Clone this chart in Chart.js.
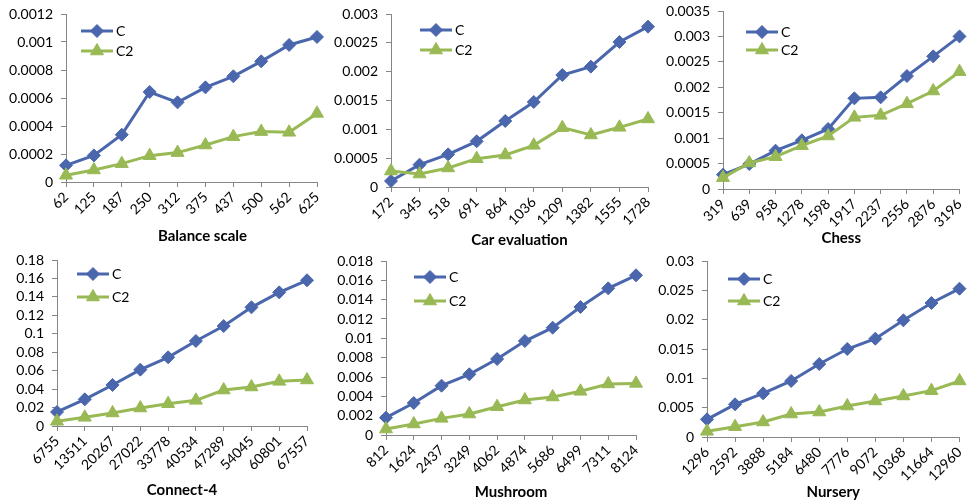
<!DOCTYPE html>
<html lang="en">
<head>
<meta charset="UTF-8">
<title>C vs C2 by dataset size</title>
<script src="https://cdn.jsdelivr.net/npm/chart.js"></script>
<style>
  * { margin: 0; padding: 0; box-sizing: border-box; }
  body { width: 968px; height: 504px; background: #fff; position: relative; overflow: hidden; }
  canvas { position: absolute; }
</style>
</head>
<body>
<canvas id="c1"></canvas>
<canvas id="c2"></canvas>
<canvas id="c3"></canvas>
<canvas id="c4"></canvas>
<canvas id="c5"></canvas>
<canvas id="c6"></canvas>

<script>
// --- data ---
const seriesNames = ['C', 'C2'];

const balanceSizes = ['62', '125', '187', '250', '312', '375', '437', '500', '562', '625'];
const balanceC  = [0.000119, 0.00019, 0.000338, 0.000643, 0.000569, 0.000676, 0.000755, 0.000862, 0.000979, 0.001036];
const balanceC2 = [0.000048, 0.000086, 0.000131, 0.000188, 0.00021, 0.000264, 0.000324, 0.00036, 0.000355, 0.00049];

const carSizes = ['172', '345', '518', '691', '864', '1036', '1209', '1382', '1555', '1728'];
const carC  = [0.000104, 0.000387, 0.000566, 0.000792, 0.001145, 0.001474, 0.001942, 0.002087, 0.002514, 0.00278];
const carC2 = [0.000277, 0.000225, 0.00033, 0.000491, 0.000555, 0.000723, 0.001029, 0.000902, 0.001035, 0.00118];

const chessSizes = ['319', '639', '958', '1278', '1598', '1917', '2237', '2556', '2876', '3196'];
const chessC  = [0.000282, 0.000491, 0.000754, 0.000957, 0.00118, 0.001782, 0.001802, 0.002221, 0.002608, 0.003001];
const chessC2 = [0.000223, 0.000511, 0.000636, 0.000852, 0.001042, 0.001409, 0.001448, 0.001677, 0.001927, 0.002307];

const connectSizes = ['6755', '13511', '20267', '27022', '33778', '40534', '47289', '54045', '60801', '67557'];
const connectC  = [0.0152, 0.0289, 0.0445, 0.0611, 0.0745, 0.0922, 0.1084, 0.1287, 0.1449, 0.158];
const connectC2 = [0.0051, 0.0094, 0.0141, 0.0195, 0.0242, 0.0278, 0.039, 0.0423, 0.0484, 0.0499];

const mushroomSizes = ['812', '1624', '2437', '3249', '4062', '4874', '5686', '6499', '7311', '8124'];
const mushroomC  = [0.00179, 0.00331, 0.0051, 0.00628, 0.00786, 0.00972, 0.0111, 0.01324, 0.01517, 0.01652];
const mushroomC2 = [0.00062, 0.00114, 0.00172, 0.00217, 0.00293, 0.00362, 0.00393, 0.00452, 0.00528, 0.00534];

const nurserySizes = ['1296', '2592', '3888', '5184', '6480', '7776', '9072', '10368', '11664', '12960'];
const nurseryC  = [0.00301, 0.00557, 0.00744, 0.00955, 0.01244, 0.015, 0.01676, 0.01989, 0.02284, 0.02528];
const nurseryC2 = [0.00097, 0.00176, 0.00256, 0.00392, 0.00426, 0.00528, 0.00614, 0.00699, 0.0079, 0.00955];

const titles = ['Balance scale', 'Car evaluation', 'Chess', 'Connect-4', 'Mushroom', 'Nursery'];
const yMaxes = [0.0012, 0.003, 0.0035, 0.18, 0.018, 0.03];
const ySteps = [0.0002, 0.0005, 0.0005, 0.02, 0.002, 0.005];

// --- layout of each panel (pixels) ---
const panels = [
  { id: 'c1', left: 0,   top: 0,   w: 329, h: 244, yW: 66, padT: 14, padR: 12, xH: 62, lx: 15, ly: [17, 37], tShift: 11 },
  { id: 'c2', left: 325, top: 0,   w: 335, h: 248, yW: 66, padT: 14, padR: 12, xH: 61, lx: 29, ly: [16, 36], tShift: 0 },
  { id: 'c3', left: 657, top: 0,   w: 311, h: 246, yW: 66, padT: 11, padR: 5,  xH: 57, lx: 23, ly: [21, 39], tShift: 0 },
  { id: 'c4', left: 0,   top: 250, w: 319, h: 248, yW: 57, padT: 10, padR: 12, xH: 72, lx: 20, ly: [14, 37], tShift: 0 },
  { id: 'c5', left: 320, top: 250, w: 328, h: 250, yW: 66, padT: 11, padR: 12, xH: 65, lx: 28, ly: [16, 40], tShift: 0 },
  { id: 'c6', left: 641, top: 250, w: 327, h: 250, yW: 66, padT: 11, padR: 7,  xH: 63, lx: 21, ly: [18, 40], tShift: 0 }
];

const sizes = [balanceSizes, carSizes, chessSizes, connectSizes, mushroomSizes, nurserySizes];
const cVals = [balanceC, carC, chessC, connectC, mushroomC, nurseryC];
const c2Vals = [balanceC2, carC2, chessC2, connectC2, mushroomC2, nurseryC2];

const BLUE = '#4a66ac';
const GREEN = '#98b954';
const AXIS = '#868686';
const FONT = 'Lato, "Liberation Sans", sans-serif';

// legend drawn inside the plot, top-left, like the original
const insideLegend = {
  id: 'insideLegend',
  afterDatasetsDraw(chart, args, opts) {
    const { ctx, chartArea } = chart;
    const x0 = chartArea.left + opts.dx;
    ctx.save();
    chart.data.datasets.forEach((ds, i) => {
      const y = chartArea.top + opts.dy[i];
      ctx.strokeStyle = ds.borderColor;
      ctx.fillStyle = ds.backgroundColor;
      ctx.lineWidth = 3;
      ctx.beginPath();
      ctx.moveTo(x0, y);
      ctx.lineTo(x0 + 32, y);
      ctx.stroke();
      ctx.lineWidth = 1;
      Chart.helpers.drawPoint(ctx, { pointStyle: ds.pointStyle, radius: ds.pointRadius, rotation: 0, borderWidth: 1 }, x0 + 16, y);
      ctx.fillStyle = '#000';
      ctx.font = '14px ' + FONT;
      ctx.textBaseline = 'middle';
      ctx.textAlign = 'left';
      ctx.fillText(ds.label, x0 + 35, y);
    });
    ctx.restore();
  }
};

function fmt(v) {
  return String(parseFloat(v.toFixed(6)));
}

panels.forEach((p, i) => {
  const cv = document.getElementById(p.id);
  cv.width = p.w;
  cv.height = p.h;
  cv.style.left = p.left + 'px';
  cv.style.top = p.top + 'px';

  new Chart(cv, {
    type: 'line',
    data: {
      labels: sizes[i],
      datasets: [
        { label: seriesNames[0], data: cVals[i], borderColor: BLUE, backgroundColor: BLUE,
          borderWidth: 3, pointStyle: 'rectRot', pointRadius: 6.5, pointBorderWidth: 1,
          tension: 0, clip: false, order: 1 },
        { label: seriesNames[1], data: c2Vals[i], borderColor: GREEN, backgroundColor: GREEN,
          borderWidth: 3, pointStyle: 'triangle', pointRadius: 7.5, pointBorderWidth: 1,
          tension: 0, clip: false, order: 0 }
      ]
    },
    options: {
      responsive: false,
      animation: false,
      layout: { padding: { top: p.padT, right: p.padR, left: 0, bottom: 0 } },
      plugins: {
        legend: { display: false },
        tooltip: { enabled: false },
        insideLegend: { dx: p.lx, dy: p.ly }
      },
      scales: {
        x: {
          type: 'category',
          offset: false,
          grid: { display: true, drawOnChartArea: false, drawTicks: true, tickLength: 5, color: AXIS },
          border: { color: AXIS, width: 1 },
          ticks: { color: '#000', font: { family: FONT, size: 14 }, minRotation: 45, maxRotation: 45, padding: 2, autoSkip: false },
          title: { display: false },
          afterFit(s) { s.height = p.xH; s.paddingLeft = 0; s.paddingRight = 0; }
        },
        y: {
          min: 0,
          max: yMaxes[i],
          grid: { display: true, drawOnChartArea: false, drawTicks: true, tickLength: 5, color: AXIS },
          border: { color: AXIS, width: 1 },
          ticks: { stepSize: ySteps[i], autoSkip: false, color: '#000', font: { family: FONT, size: 14 }, padding: 8, callback: v => fmt(v) },
          afterFit(s) { s.width = p.yW; s.paddingTop = 0; s.paddingBottom = 0; }
        }
      }
    },
    plugins: [insideLegend, {
      // dataset name under the x axis
      id: 'axisTitle',
      afterDraw(c) {
        const s = c.scales.x;
        const ctx = c.ctx;
        ctx.save();
        ctx.fillStyle = '#000';
        ctx.font = 'bold 15px ' + FONT;
        ctx.textAlign = 'center';
        ctx.textBaseline = 'middle';
        ctx.fillText(titles[i], (s.left + s.right) / 2 + p.tShift, s.bottom - 8);
        ctx.restore();
      }
    }]
  });
});
</script>
</body>
</html>
